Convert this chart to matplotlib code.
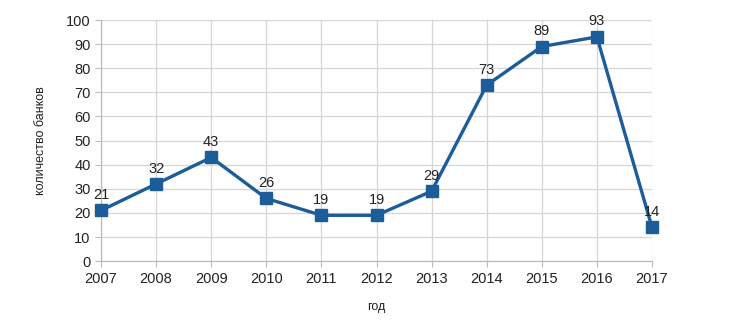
import matplotlib
matplotlib.use('Agg')
import matplotlib.pyplot as plt

plt.rcParams['font.family'] = ['Liberation Sans', 'DejaVu Sans']

years = [2007, 2008, 2009, 2010, 2011, 2012, 2013, 2014, 2015, 2016, 2017]
banks = [21, 32, 43, 26, 19, 19, 29, 73, 89, 93, 14]
y_ticks = list(range(0, 101, 10))

fig = plt.figure(figsize=(7.34, 3.2), dpi=100)
ax = fig.add_axes([0.1376, 0.184, 0.7507, 0.7535])

ax.plot(years, banks, color='#1c5d99', linewidth=2.4, marker='s',
        markersize=8, zorder=5, clip_on=False)

for x, y in zip(years, banks):
    ax.text(x, y + 3.5, str(y), ha='center', va='bottom', fontsize=10.5,
            color='#222222', zorder=6)

ax.set_xlim(2007, 2017)
ax.set_ylim(0, 100)
ax.set_xticks(years)
ax.set_yticks(y_ticks)
ax.tick_params(axis='both', labelsize=10.5, labelcolor='#222222', length=4,
               width=0.8, direction='out', color='#bbbbbb')
ax.grid(True, color='#d6d6d6', linewidth=0.9)
ax.set_axisbelow(True)
for side in ['top', 'right']:
    ax.spines[side].set_visible(False)
for side in ['left', 'bottom']:
    ax.spines[side].set_color('#bbbbbb')
    ax.spines[side].set_linewidth(0.9)

ax.set_ylabel('количество банков', fontsize=9, color='#222222', labelpad=14)
ax.set_xlabel('год', fontsize=9, color='#222222', labelpad=11)

fig.savefig('out.png', dpi=100)
